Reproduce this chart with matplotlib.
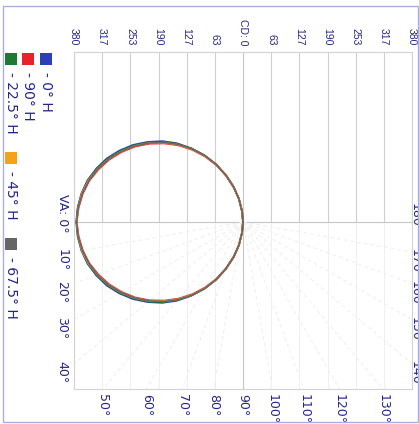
import numpy as np
import matplotlib
matplotlib.use("Agg")
import matplotlib.pyplot as plt
from matplotlib.patches import Rectangle

# ---------------- data ----------------
angles = [0, 5, 10, 15, 20, 25, 30, 35, 40, 45, 50, 55, 60, 65, 70, 75, 80, 85, 90]
series_names = ["- 0° H", "- 90° H", "- 22.5° H", "- 45° H", "- 67.5° H"]
series_colors = ["#2b3fb8", "#e8232b", "#1c7a35", "#f4a21a", "#666666"]
cd_0 = [375, 373, 369, 362, 351, 338, 321, 302, 280, 257, 231, 202, 173, 143, 112, 82, 53, 24, 0]
cd_90 = [374, 371, 366, 358, 346, 332, 315, 296, 274, 250, 225, 198, 170, 141, 110, 80, 52, 23, 0]
cd_22 = [374, 373, 368, 361, 350, 336, 319, 300, 278, 255, 229, 202, 173, 143, 112, 82, 53, 24, 0]
cd_45 = [374, 372, 368, 360, 348, 334, 317, 298, 276, 252, 227, 200, 172, 143, 112, 82, 53, 24, 0]
cd_67 = [374, 372, 367, 359, 348, 334, 317, 298, 276, 253, 228, 201, 173, 143, 112, 82, 53, 24, 0]
series_values = [cd_0, cd_90, cd_22, cd_45, cd_67]
series_widths = [1.3, 1.3, 1.2, 1.2, 1.1]
draw_order = [0, 2, 1, 3, 4]

cd_ticks = [63.3, 126.7, 190, 253.3, 316.7, 380]
cd_tick_labels = ["63", "127", "190", "253", "317", "380"]
va_ticks = [0, 10, 20, 30, 40, 50, 60, 70, 80, 90, 100, 110, 120, 130, 140, 150, 160, 170, 180]

# ---------------- figure ----------------
W, H = 419, 424
fig = plt.figure(figsize=(W / 100, H / 100), dpi=100)
fig.patch.set_facecolor("white")

ax_l, ax_r, ax_t, ax_b = 74, 412, 52, 389
ax = fig.add_axes([ax_l / W, 1 - ax_b / H, (ax_r - ax_l) / W, (ax_b - ax_t) / H])
XMAX = 380.0
pxcd = (ax_r - ax_l) / (2 * XMAX)
ytop = (222 - ax_t) / pxcd
ybot = (ax_b - 222) / pxcd
ax.set_xlim(-XMAX, XMAX)
ax.set_ylim(-ybot, ytop)
ax.set_xticks([])
ax.set_yticks([])
for s in ax.spines.values():
    s.set_color("#d2d2d2")
    s.set_linewidth(0.8)

navy = "#25258a"
tick_font = ["Liberation Sans", "DejaVu Sans"]

# vertical CD grid lines
for v in cd_ticks:
    for sgn in (-1, 1):
        ax.plot([sgn * v, sgn * v], [0, ytop], color="#cfcfcf", lw=0.8, zorder=1)
        ax.plot([sgn * v, sgn * v], [-ybot, 0], color="#efefef", lw=0.7, zorder=1)
ax.plot([0, 0], [-ybot, ytop], color="#c6c6c6", lw=0.8, zorder=1)
ax.plot([-XMAX, XMAX], [0, 0], color="#c6c6c6", lw=0.8, zorder=1)


def border_point(deg):
    t = np.radians(deg)
    dx, dy = -np.cos(t), -np.sin(t)
    cands = []
    if abs(dx) > 1e-9:
        cands.append(XMAX / abs(dx))
    if abs(dy) > 1e-9:
        cands.append(ybot / abs(dy))
    s = min(cands)
    return dx * s, dy * s


# radial lines (very faint)
for a in va_ticks:
    if a in (0, 90, 180):
        continue
    bx, by = border_point(a)
    ax.plot([0, bx], [0, by], color="#efefef", lw=0.7, ls=(0, (4, 3)), zorder=1)

# angle labels
for a in va_ticks:
    bx, by = border_point(a)
    txt = f"{a}°"
    if a == 0:
        ax.annotate("VA: 0°", (bx, by), xytext=(-12, -11), textcoords="offset pixels",
                    rotation=-90, rotation_mode="anchor", ha="right", va="center",
                    fontsize=9, color=navy, annotation_clip=False)
    elif a == 180:
        ax.annotate(txt, (bx, by), xytext=(3, -11), textcoords="offset pixels",
                    rotation=-90, rotation_mode="anchor", ha="right", va="center",
                    fontsize=9, color=navy, annotation_clip=False)
    elif a < 45:
        ax.annotate(txt, (bx, by), xytext=(-12, 3), textcoords="offset pixels",
                    rotation=-90, rotation_mode="anchor", ha="left", va="center",
                    fontsize=9, color=navy, annotation_clip=False)
    elif a <= 135:
        ax.annotate(txt, (bx, by), xytext=(0, -5), textcoords="offset pixels",
                    rotation=-90, rotation_mode="anchor", ha="left", va="center",
                    fontsize=9, color=navy, annotation_clip=False)
    else:
        ax.annotate(txt, (bx, by), xytext=(3, 3), textcoords="offset pixels",
                    rotation=-90, rotation_mode="anchor", ha="left", va="center",
                    fontsize=9, color=navy, annotation_clip=False)

# CD labels on top
for v, lab in zip(cd_ticks, cd_tick_labels):
    for sgn in (-1, 1):
        ax.annotate(lab, (sgn * v, ytop), xytext=(0, 7), textcoords="offset pixels",
                    rotation=-90, rotation_mode="anchor", ha="right", va="center",
                    fontsize=7.5, color=navy, family=tick_font, annotation_clip=False)
ax.annotate("CD: 0", (0, ytop), xytext=(0, 7), textcoords="offset pixels",
            rotation=-90, rotation_mode="anchor", ha="right", va="center",
            fontsize=7.5, color=navy, family=tick_font, annotation_clip=False)

# curves
th = np.radians(np.array(angles, dtype=float))
for i in draw_order:
    r = np.array(series_values[i], dtype=float)
    xl, yl = -r * np.cos(th), -r * np.sin(th)
    xs = np.concatenate([xl[::-1], xl[1:]])
    ys = np.concatenate([-yl[::-1], yl[1:]])
    ax.plot(xs, ys, color=series_colors[i], lw=series_widths[i], zorder=3,
            solid_joinstyle="round", solid_capstyle="round")

# legend (manual, rotated)
leg_items = [
    (series_names[0], series_colors[0], 45.5, 53),
    (series_names[1], series_colors[1], 28, 53),
    (series_names[2], series_colors[2], 10.5, 53),
    (series_names[3], series_colors[3], 10.5, 152),
    (series_names[4], series_colors[4], 10.5, 238),
]
sq = 12
for name, col, cx, ty in leg_items:
    fig.add_artist(Rectangle(((cx - sq / 2) / W, 1 - (ty + sq) / H), sq / W, sq / H,
                             transform=fig.transFigure, facecolor=col, edgecolor="none"))
    fig.text(cx / W, 1 - (ty + sq + 7) / H, name, rotation=-90, rotation_mode="anchor",
             ha="left", va="center", fontsize=10, color=navy)

# outer frame
fig.add_artist(Rectangle((3 / W, 2 / H), 415 / W, 416 / H, transform=fig.transFigure,
                         fill=False, edgecolor="#a9aee0", lw=1.0))

fig.savefig("out.png", dpi=100, facecolor="white")
